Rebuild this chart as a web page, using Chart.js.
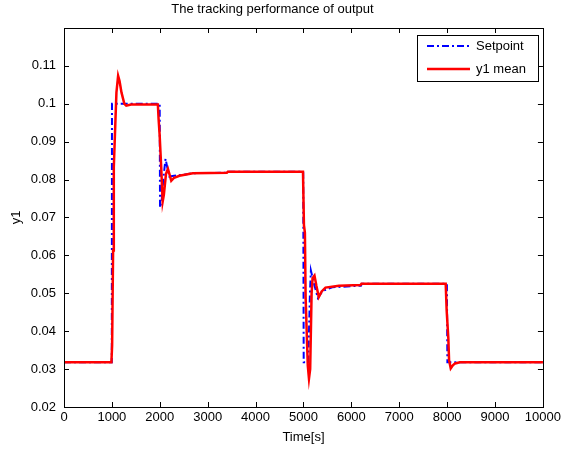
<!DOCTYPE html>
<html><head><meta charset="utf-8">
<script src="https://cdn.jsdelivr.net/npm/chart.js@4/dist/chart.umd.min.js"></script>
<style>html,body{margin:0;padding:0;background:#fff;}#wrap{width:564px;height:449px;}</style>
</head><body><div id="wrap"><canvas id="c" width="564" height="449"></canvas></div>
<script>
const titleText = 'The tracking performance of output';
const xLabel = 'Time[s]';
const yLabel = 'y1';
const seriesNames = ['Setpoint', 'y1 mean'];
const xTicks = [0, 1000, 2000, 3000, 4000, 5000, 6000, 7000, 8000, 9000, 10000];
const yTicks = [0.02, 0.03, 0.04, 0.05, 0.06, 0.07, 0.08, 0.09, 0.1, 0.11];
const yMin = 0.02, yMax = 0.12, xMin = 0, xMax = 10000;

const setpointTime  = [0, 998, 1002, 1998, 2005, 2040, 2080, 2120, 2160, 2200, 2300, 2500, 2700, 3400, 3420, 4995, 5005, 5100, 5135, 5155, 5230, 5300, 5400, 5600, 6200, 6220, 7995, 8005, 10000];
const setpointValue = [0.0318, 0.0318, 0.1, 0.1, 0.0726, 0.0745, 0.0810, 0.0855, 0.0830, 0.0808, 0.0810, 0.0813, 0.0817, 0.0818, 0.0821, 0.0821, 0.0318, 0.0318, 0.0500, 0.0560, 0.0520, 0.0488, 0.0506, 0.0516, 0.0520, 0.0525, 0.0525, 0.0318, 0.0318];

const y1Time  = [0, 990, 1005, 1025, 1040, 1075, 1095, 1130, 1160, 1200, 1260, 1300, 1400, 1960, 1975, 1996, 2030, 2060, 2085, 2130, 2170, 2200, 2240, 2300, 2410, 2690, 3400, 3420, 4990, 5010, 5030, 5045, 5090, 5115, 5140, 5170, 5190, 5230, 5270, 5320, 5380, 5460, 5740, 6190, 6210, 7970, 7990, 8025, 8040, 8075, 8120, 8165, 8270, 10000];
const y1Value = [0.0318, 0.0318, 0.0363, 0.0613, 0.0832, 0.0960, 0.1030, 0.1074, 0.1060, 0.1030, 0.1000, 0.0995, 0.0998, 0.0998, 0.0960, 0.0920, 0.0832, 0.0742, 0.0760, 0.0815, 0.0828, 0.0815, 0.0797, 0.0805, 0.0810, 0.0817, 0.0818, 0.0821, 0.0821, 0.0680, 0.0660, 0.0490, 0.0310, 0.0275, 0.0300, 0.0500, 0.0540, 0.0547, 0.0520, 0.0490, 0.0505, 0.0515, 0.0520, 0.0522, 0.0525, 0.0525, 0.0455, 0.0381, 0.0324, 0.0302, 0.0310, 0.0315, 0.0318, 0.0318];

const FONT = 'Liberation Sans, Arial, Helvetica, sans-serif';
const FS = 13;
const toXY = (ts, vs) => ts.map((t, i) => ({x: t, y: vs[i]}));
const spColor = '#0000ff', y1Color = '#ff0000';
const spDash = [7, 3, 2, 3];

const matlabFrame = {
  id: 'matlabFrame',
  afterDraw(chart) {
    const {ctx, chartArea: a, scales} = chart;
    ctx.save();
    ctx.strokeStyle = '#000';
    ctx.lineWidth = 1;
    ctx.setLineDash([]);
    ctx.beginPath();
    const tl = 5;
    xTicks.forEach(v => {
      const px = Math.round(scales.x.getPixelForValue(v)) + 0.5;
      ctx.moveTo(px, a.bottom); ctx.lineTo(px, a.bottom - tl);
      ctx.moveTo(px, a.top); ctx.lineTo(px, a.top + tl);
    });
    yTicks.forEach(v => {
      const py = Math.round(scales.y.getPixelForValue(v)) + 0.5;
      ctx.moveTo(a.left, py); ctx.lineTo(a.left + tl, py);
      ctx.moveTo(a.right, py); ctx.lineTo(a.right - tl, py);
    });
    ctx.stroke();
    ctx.strokeRect(Math.round(a.left) + 0.5, Math.round(a.top) + 0.5, Math.round(a.right - a.left), Math.round(a.bottom - a.top));

    // legend box
    const lx = 417.5, ly = 35.5, lw = 121, lh = 46;
    ctx.fillStyle = '#fff';
    ctx.fillRect(lx, ly, lw, lh);
    ctx.strokeRect(lx, ly, lw, lh);
    ctx.font = FS + 'px ' + FONT;
    ctx.textBaseline = 'middle';
    ctx.textAlign = 'left';
    const rows = [
      {label: seriesNames[0], color: spColor, dash: spDash, w: 2, y: 46},
      {label: seriesNames[1], color: y1Color, dash: [], w: 2.5, y: 69}
    ];
    rows.forEach(r => {
      ctx.strokeStyle = r.color; ctx.lineWidth = r.w; ctx.setLineDash(r.dash);
      ctx.beginPath(); ctx.moveTo(427, r.y); ctx.lineTo(470, r.y); ctx.stroke();
      ctx.fillStyle = '#000';
      ctx.fillText(r.label, 476, r.y);
    });
    ctx.restore();
  }
};

new Chart(document.getElementById('c'), {
  type: 'line',
  data: {
    datasets: [
      {label: seriesNames[0], data: toXY(setpointTime, setpointValue), borderColor: spColor, borderWidth: 2, borderDash: spDash, pointRadius: 0, tension: 0, fill: false, order: 1},
      {label: seriesNames[1], data: toXY(y1Time, y1Value), borderColor: y1Color, borderWidth: 2.5, pointRadius: 0, tension: 0, fill: false, order: 0}
    ]
  },
  options: {
    responsive: false, animation: false, devicePixelRatio: 1,
    layout: {padding: {left: 0, right: 19, top: 0, bottom: 0}},
    plugins: {
      legend: {display: false},
      tooltip: {enabled: false},
      title: {display: true, text: titleText, color: '#000', font: {family: FONT, size: FS, weight: 'normal'}, padding: {top: 2, bottom: 10.4}}
    },
    scales: {
      x: {
        type: 'linear', min: xMin, max: xMax,
        afterBuildTicks: s => { s.ticks = xTicks.map(v => ({value: v})); },
        afterFit: s => { s.height = 42; },
        grid: {display: false, drawTicks: false}, border: {display: false},
        ticks: {color: '#000', font: {family: FONT, size: FS}, padding: 3, maxRotation: 0, autoSkip: false, callback: v => String(v)},
        title: {display: true, text: xLabel, color: '#000', font: {family: FONT, size: FS}, padding: {top: 0, bottom: 4.2}}
      },
      y: {
        type: 'linear', min: yMin, max: yMax,
        afterBuildTicks: s => { s.ticks = yTicks.map(v => ({value: v})); },
        afterFit: s => { s.width = 64; },
        grid: {display: false, drawTicks: false}, border: {display: false},
        ticks: {color: '#000', font: {family: FONT, size: FS}, padding: 8, autoSkip: false, callback: v => String(+Number(v).toFixed(2))},
        title: {display: true, text: yLabel, color: '#000', font: {family: FONT, size: FS}, padding: {top: 9, bottom: 0}}
      }
    }
  },
  plugins: [matlabFrame]
});
</script></body></html>
